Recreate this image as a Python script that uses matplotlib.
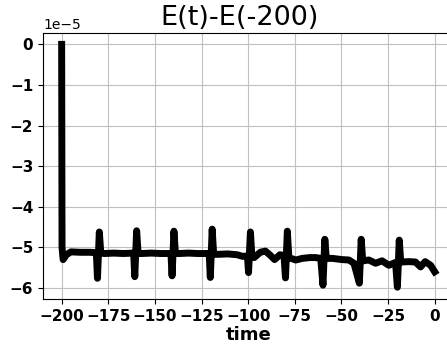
import matplotlib
matplotlib.use("Agg")
import matplotlib.pyplot as plt

# energy drift relative to t = -200, in units of 1e-5
time = [-200, -199.8, -199.2, -197.5, -195, -190, -185,
        -181.4, -180.8, -179.8, -179.0, -177, -172, -167,
        -161.4, -160.8, -159.8, -159.0, -157, -152, -147,
        -141.4, -140.8, -139.8, -139.0, -137, -132, -127, -122,
        -120.9, -120.3, -119.3, -118.5, -116, -111, -106, -103,
        -100.4, -99.8, -98.8, -98.0, -96.8, -93.5, -90.8, -88.0, -85.8, -83.0, -80.8,
        -80.0, -79.0, -78.2, -74.5, -71.0, -67.0, -63.8, -61.1,
        -59.9, -58.9, -58.1, -54.9, -49.6, -46.0, -43.3,
        -40.4, -39.4, -38.6, -35.3, -31.7, -28.2, -24.6, -21.0,
        -20.0, -19.0, -18.2, -13.9, -10.3, -7.6, -5.1, -2.2, 0.0]
energy_diff = [0.0, -5.0, -5.30, -5.18, -5.11, -5.12, -5.12,
               -5.13, -5.76, -4.62, -5.14, -5.15, -5.14, -5.15,
               -5.14, -5.72, -4.59, -5.15, -5.15, -5.14, -5.15,
               -5.15, -5.70, -4.60, -5.15, -5.15, -5.14, -5.15, -5.15,
               -5.16, -5.74, -4.55, -5.17, -5.17, -5.16, -5.18, -5.22,
               -5.21, -5.62, -4.62, -5.22, -5.25, -5.12, -5.09, -5.20, -5.30, -5.18, -5.20,
               -5.75, -4.60, -5.25, -5.31, -5.27, -5.25, -5.25, -5.27,
               -5.93, -4.80, -5.27, -5.27, -5.30, -5.31, -5.39,
               -5.88, -4.80, -5.33, -5.31, -5.39, -5.33, -5.44, -5.37,
               -5.98, -4.82, -5.36, -5.35, -5.36, -5.48, -5.35, -5.44, -5.60]

xticks = [-200, -175, -150, -125, -100, -75, -50, -25, 0]

fig = plt.figure(figsize=(4.47, 3.49), dpi=100)
ax = fig.add_axes([0.0962, 0.1433, 0.918, 0.7621])

ax.plot(time, [v * 1e-5 for v in energy_diff], color="black", linewidth=5,
        solid_joinstyle="round")

ax.set_xlim(-210, 10)
ax.set_ylim(-6.27e-5, 0.28e-5)
ax.set_xticks(xticks)
ax.grid(True, color="#c0c0c0")
ax.set_title("E(t)-E(-200)", fontsize=19.5, x=0.478)
ax.set_xlabel("time", fontsize=13, fontweight="bold", labelpad=2)
ax.tick_params(labelsize=11)
for lbl in ax.get_xticklabels() + ax.get_yticklabels():
    lbl.set_fontweight("bold")

fig.savefig("out.png", dpi=100)
